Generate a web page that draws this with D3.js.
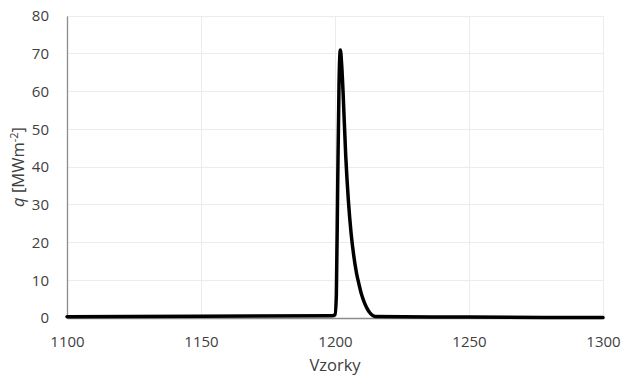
<!DOCTYPE html>
<html>
<head>
<meta charset="utf-8">
<script src="https://cdn.jsdelivr.net/npm/d3@7/dist/d3.min.js"></script>
<style>
  html, body { margin: 0; padding: 0; background: #fff; }
  svg { display: block; }
  text { font-family: "Open Sans", "Liberation Sans", sans-serif; fill: #404040; }
</style>
</head>
<body>
<svg id="chart" width="621" height="377"></svg>
<script>
// Data
const samples = [1100, 1150, 1199, 1200, 1200.5, 1201, 1201.5, 1202, 1202.5, 1203, 1204, 1205, 1206, 1207, 1208, 1209, 1210, 1211, 1212, 1213, 1214, 1215, 1250, 1300];
const qValues = [0.35, 0.45, 0.6, 0.9, 6, 35, 62, 71, 67, 60, 43, 31, 22.5, 16.5, 12, 8.8, 6, 4, 2.5, 1.4, 0.7, 0.4, 0.25, 0.1];
const xTicks = [1100, 1150, 1200, 1250, 1300];
const yTicks = [0, 10, 20, 30, 40, 50, 60, 70, 80];
const xTitle = "Vzorky";

const svg = d3.select("#chart");
const m = { left: 67, right: 18, top: 16, bottom: 59 };
const W = 621, H = 377;

const x = d3.scaleLinear().domain([1100, 1300]).range([m.left, W - m.right]);
const y = d3.scaleLinear().domain([0, 80]).range([H - m.bottom, m.top]);

// grid
svg.append("g").selectAll("line").data(yTicks.filter(d => d > 0)).join("line")
  .attr("x1", x(1100)).attr("x2", x(1300))
  .attr("y1", d => y(d)).attr("y2", d => y(d))
  .attr("stroke", "#ececec").attr("stroke-width", 1).attr("shape-rendering", "crispEdges");
svg.append("g").selectAll("line").data(xTicks.filter(d => d > 1100)).join("line")
  .attr("x1", d => x(d)).attr("x2", d => x(d))
  .attr("y1", y(0)).attr("y2", y(80))
  .attr("stroke", "#ececec").attr("stroke-width", 1).attr("shape-rendering", "crispEdges");

// axes
const xAxis = d3.axisBottom(x).tickValues(xTicks).tickSize(0).tickPadding(18).tickFormat(d3.format("d"));
const gx = svg.append("g").attr("transform", `translate(0,${y(0)})`).call(xAxis);
gx.select(".domain").attr("stroke", "#8c8c8c").attr("stroke-width", 1.3);
gx.selectAll("text").style("font-size", "15px").attr("fill", "#404040");

const yAxis = d3.axisLeft(y).tickValues(yTicks).tickSize(0).tickPadding(18);
const gy = svg.append("g").attr("transform", `translate(${x(1100)},0)`).call(yAxis);
gy.select(".domain").attr("stroke", "#8c8c8c").attr("stroke-width", 1.3);
gy.selectAll("text").style("font-size", "15px").attr("fill", "#404040");

// line
const pts = samples.map((s, i) => [s, qValues[i]]);
const line = d3.line().x(d => x(d[0])).y(d => y(d[1])).curve(d3.curveMonotoneX);
svg.append("path").datum(pts).attr("d", line)
  .attr("fill", "none").attr("stroke", "#000").attr("stroke-width", 3.5)
  .attr("stroke-linejoin", "round").attr("stroke-linecap", "round");

// titles
svg.append("text").attr("x", (x(1100) + x(1300)) / 2).attr("y", 371)
  .attr("text-anchor", "middle").style("font-size", "16.5px").text(xTitle);

const yt = svg.append("text")
  .attr("transform", `translate(24,${(y(0) + y(80)) / 2}) rotate(-90)`)
  .attr("text-anchor", "middle").style("font-size", "16.5px");
yt.append("tspan").style("font-style", "italic").text("q");
yt.append("tspan").text(" [MWm");
yt.append("tspan").attr("dy", -6).style("font-size", "11px").text("-2");
yt.append("tspan").attr("dy", 6).text("]");
</script>
</body>
</html>
